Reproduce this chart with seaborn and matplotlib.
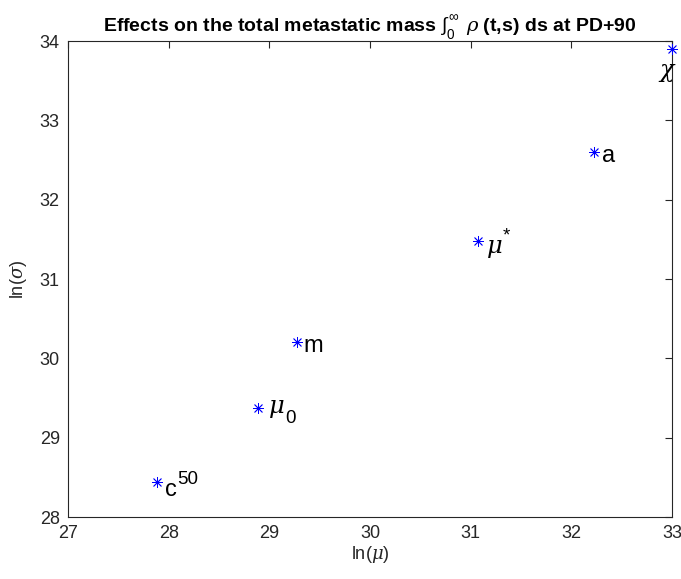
import matplotlib
matplotlib.use("Agg")
import matplotlib.pyplot as plt
import seaborn as sns
import pandas as pd

# Data
params = ["c50", "mu0", "m", "mustar", "a", "chi"]
base_labels = ["c", r"$\mu$", "m", r"$\mu$", "a", r"$\chi$"]
script_labels = ["50", "0", "", "*", "", ""]
ln_mu = [27.88, 28.89, 29.27, 31.07, 32.22, 33.0]
ln_sigma = [28.44, 29.37, 30.21, 31.48, 32.60, 33.90]
# label offsets (pixels, baseline-anchored)
base_offsets = [(8, -14), (10, -5), (7, -10), (8, -12), (8, -10), (-5, -28)]
script_offsets = [(21, -2), (27, -15), (0, 0), (25, 1), (0, 0), (0, 0)]
base_sizes = [17, 17.5, 17, 17.5, 17, 17]
x_ticks = [27, 28, 29, 30, 31, 32, 33]
y_ticks = [28, 29, 30, 31, 32, 33, 34]

df = pd.DataFrame({"param": params, "ln_mu": ln_mu, "ln_sigma": ln_sigma})

sns.set_style("white")
plt.rcParams['font.family'] = ['Liberation Sans', 'DejaVu Sans']
plt.rcParams['mathtext.fontset'] = 'custom'
plt.rcParams['mathtext.rm'] = 'Liberation Sans'
plt.rcParams['mathtext.it'] = 'DejaVu Serif:italic'
plt.rcParams['mathtext.bf'] = 'Liberation Sans:bold'

fig = plt.figure(figsize=(6.81, 5.79), dpi=100)
ax = fig.add_axes([0.1, 0.107, 0.887, 0.822])

sns.scatterplot(data=df, x="ln_mu", y="ln_sigma", ax=ax, marker=(8, 2, 0),
                s=55, color="blue", edgecolor="blue", linewidth=0.6, legend=False,
                clip_on=False, zorder=3)

for lab, sc, xv, yv, off, soff, fs in zip(base_labels, script_labels, ln_mu, ln_sigma,
                                          base_offsets, script_offsets, base_sizes):
    ax.annotate(lab, (xv, yv), xytext=off, textcoords="offset pixels",
                fontsize=fs, ha="left" if off[0] > 0 else "center", va="baseline",
                color="black")
    if sc:
        ax.annotate(sc, (xv, yv), xytext=soff, textcoords="offset pixels",
                    fontsize=13.5, ha="left", va="baseline", color="black")

ax.set_xlim(27, 33)
ax.set_ylim(28, 34)
ax.set_xticks(x_ticks)
ax.set_yticks(y_ticks)
ax.tick_params(direction="in", top=True, right=True, length=5, width=0.8,
               labelsize=13, colors="#262626", pad=6)
for s in ax.spines.values():
    s.set_color("#262626")
    s.set_linewidth(0.8)

ax.set_xlabel(r"ln($\mu$)", fontsize=13, color="#262626", labelpad=1)
ax.set_ylabel(r"ln($\sigma$)", fontsize=13, color="#262626", labelpad=8)
ax.set_title(r"Effects on the total metastatic mass $\int_{0}^{\infty}\;\,\rho$ (t,s) ds at PD+90",
             fontsize=14, fontweight="bold", pad=7, color="black")

fig.savefig("out.png", dpi=100)
